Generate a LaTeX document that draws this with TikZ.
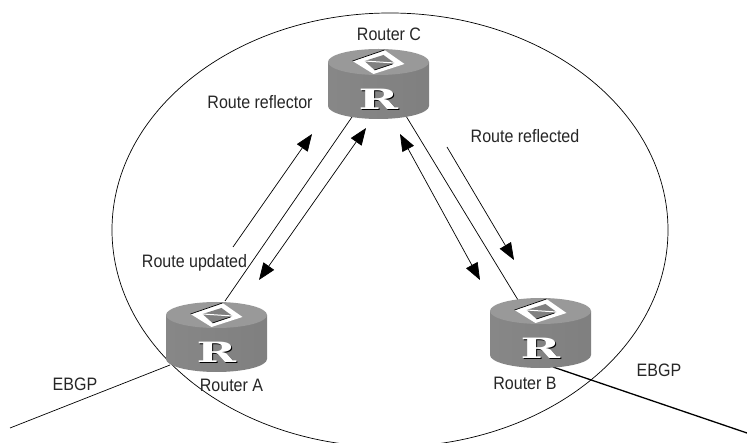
\documentclass[tikz,border=0pt]{standalone}
\usepackage{fontspec}
\setmainfont{Liberation Sans}
\newfontfamily\logofont{DejaVu Serif}
\usetikzlibrary{arrows.meta}
\tikzset{
  lbl/.style={font=\fontsize{18}{18}\selectfont,inner sep=0pt,xscale=0.89,text=black!85},
  link/.style={line width=0.7pt},
  flow/.style={line width=0.7pt,-{Triangle[length=17pt,width=13pt]}},
  flowboth/.style={line width=0.7pt,{Triangle[length=17pt,width=13pt]}-{Triangle[length=17pt,width=13pt]}},
  router/.pic={
    \shade[left color=black!47,middle color=black!58,right color=black!50] (-50.5,0) -- (-50.5,44) arc[start angle=180,end angle=360,x radius=50.5pt,y radius=13pt] -- (50.5,0) -- cycle;
    \fill[black!40] (0,0) ellipse[x radius=50.5pt,y radius=13pt];
    \fill[white] (-26,-1) -- (6,-12) -- (26,2) -- (-5,12) -- cycle;
    \fill[black!50] (-14,-1) -- (5,-7) -- (16,1) -- (-4,8) -- cycle;
    \draw[white,line width=1pt] (-14,-1) -- (16,1);
    \draw[line width=0.7pt] (-26,-1) -- (6,-12);
    \draw[line width=0.7pt] (-4,8) -- (14,2);
    \node[font=\logofont\bfseries\fontsize{28}{28}\selectfont,text=black,xscale=1.7,inner sep=0pt] (-shadow) at (1,38.5) {R};
    \node[font=\logofont\bfseries\fontsize{28}{28}\selectfont,text=white,xscale=1.7,inner sep=0pt] (-logo) at (0,37) {R};
  }
}
\begin{document}
\begin{tikzpicture}[x=1pt,y=-1pt]
\clip (0,0) rectangle (747,443);
\fill[white] (0,0) rectangle (747,443);
\draw[line width=0.7pt] (390,230) ellipse[x radius=278pt,y radius=217pt];
\coordinate (Cleft) at (352,117);
\coordinate (Aup) at (225,301);
\coordinate (Cright) at (406,116);
\coordinate (Bup) at (518,300);
\coordinate (Aout) at (170,365);
\coordinate (Aend) at (10,428);
\coordinate (Bout) at (553,367);
\coordinate (Bend) at (747,433);
\draw[link] (Cleft) -- (Aup);
\draw[link] (Cright) -- (Bup);
\draw[link] (Aout) -- (Aend);
\draw[line width=1.3pt] (Bout) -- (Bend);
\coordinate (u1) at (233,247);
\coordinate (u2) at (312,134);
\coordinate (d1) at (366,128);
\coordinate (d2) at (259,280);
\coordinate (e1) at (400,134);
\coordinate (e2) at (480,280);
\coordinate (r1) at (447,147);
\coordinate (r2) at (514,260);
\draw[flow] (u1) -- (u2);
\draw[flowboth] (d1) -- (d2);
\draw[flowboth] (e1) -- (e2);
\draw[flow] (r1) -- (r2);
\pic (routerC) at (378.5,62) {router};
\pic (routerA) at (216.5,315) {router};
\pic (routerB) at (540.5,311) {router};
\node[lbl] (labelC) at (389,34) {Router C};
\node[lbl] (labelA) at (231.5,385) {Router A};
\node[lbl] (labelB) at (525,383) {Router B};
\node[lbl] (reflector) at (260,102) {Route reflector};
\node[lbl] (reflected) at (525,136) {Route reflected};
\node[lbl] (updated) at (194.5,263) {Route updated};
\node[lbl] (ebgpA) at (75,384) {EBGP};
\node[lbl] (ebgpB) at (659,370) {EBGP};
\end{tikzpicture}
\end{document}
